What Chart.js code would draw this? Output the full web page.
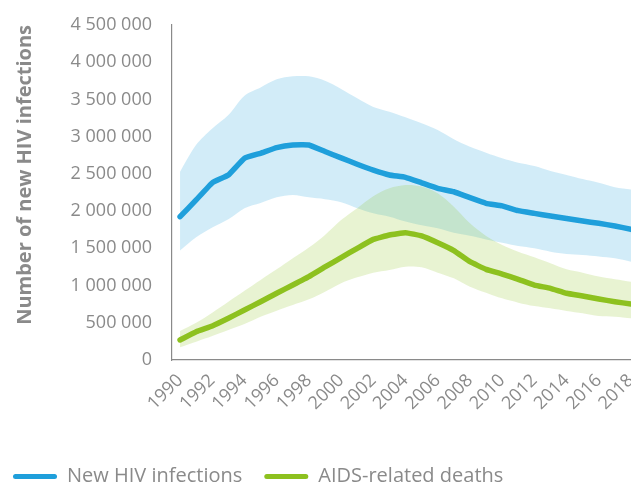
<!DOCTYPE html>
<html>
<head>
<meta charset="utf-8">
<script src="https://cdn.jsdelivr.net/npm/chart.js@4.4.1/dist/chart.umd.min.js"></script>
<style>
  html, body { margin: 0; padding: 0; background: #ffffff; }
  #wrap { width: 631px; height: 486px; }
</style>
</head>
<body>
<div id="wrap"><canvas id="c" width="631" height="486"></canvas></div>
<script>
// ---- data ----
const years = [1990,1991,1992,1993,1994,1995,1996,1997,1998,1999,2000,2001,2002,2003,2004,2005,2006,2007,2008,2009,2010,2011,2012,2013,2014,2015,2016,2017,2018];
const xTickYears = [1990,1992,1994,1996,1998,2000,2002,2004,2006,2008,2010,2012,2014,2016,2018];
const yTicks = [0,500000,1000000,1500000,2000000,2500000,3000000,3500000,4000000,4500000];

const seriesNames = ['New HIV infections', 'AIDS-related deaths'];

const newInfections = [1925000,2150000,2380000,2485000,2710000,2777000,2852000,2888000,2888000,2800000,2715000,2630000,2550000,2485000,2454000,2380000,2306000,2260000,2180000,2105000,2070000,2006000,1970000,1934000,1900000,1867000,1836000,1800000,1755000];
const newInfectionsUpper = [2530000,2890000,3110000,3290000,3550000,3660000,3770000,3810000,3810000,3750000,3640000,3515000,3400000,3335000,3260000,3180000,3090000,2965000,2865000,2785000,2710000,2650000,2606000,2540000,2485000,2430000,2380000,2320000,2290000];
const newInfectionsLower = [1470000,1650000,1780000,1890000,2040000,2110000,2185000,2216000,2185000,2160000,2120000,2040000,1970000,1925000,1860000,1810000,1770000,1710000,1670000,1620000,1575000,1530000,1500000,1455000,1424000,1410000,1390000,1366000,1320000];

const aidsDeaths = [269000,380000,457000,560000,672000,783000,896000,1007000,1120000,1250000,1375000,1500000,1620000,1680000,1710000,1666000,1575000,1470000,1320000,1218000,1155000,1084000,1007000,963000,896000,860000,819000,783000,752000];
const aidsDeathsUpper = [390000,500000,636000,783000,930000,1075000,1218000,1366000,1510000,1680000,1880000,2040000,2200000,2306000,2350000,2330000,2240000,2060000,1836000,1666000,1545000,1455000,1380000,1300000,1218000,1173000,1120000,1084000,1050000];
const aidsDeathsLower = [170000,246000,322000,403000,484000,582000,662000,739000,815000,917000,1030000,1110000,1173000,1210000,1253000,1245000,1173000,1097000,985000,904000,828000,770000,725000,694000,658000,627000,591000,582000,560000];

// ---- styling ----
const BLUE = '#1f9fdb';
const GREEN = '#8dc11f';
const BLUE_BAND = 'rgba(31,159,219,0.2)';
const GREEN_BAND = 'rgba(141,193,31,0.2)';
const GREY = '#8a8a8a';
const FONT = '"Open Sans", "Noto Sans", sans-serif';

const pts = arr => years.map((y, i) => ({x: y, y: arr[i]}));
const fmt = v => String(v).replace(/\B(?=(\d{3})+(?!\d))/g, ' ');
const noPad = s => { s.paddingLeft = 0; s.paddingRight = 0; s.paddingTop = 0; s.paddingBottom = 0; };

const lineDs = (label, data, color) => ({
  label, data: pts(data), borderColor: color, backgroundColor: color,
  borderWidth: 5.5, pointRadius: 0, fill: false, tension: 0.1,
  borderCapStyle: 'round', borderJoinStyle: 'round'
});
const bandDs = (label, data, color, fill) => ({
  label, data: pts(data), borderColor: 'rgba(0,0,0,0)', backgroundColor: color,
  borderWidth: 0, pointRadius: 0, fill, tension: 0.3
});

new Chart(document.getElementById('c'), {
  type: 'line',
  data: {
    datasets: [
      lineDs(seriesNames[0], newInfections, BLUE),
      lineDs(seriesNames[1], aidsDeaths, GREEN),
      bandDs('deaths upper', aidsDeathsUpper, GREEN_BAND, '+1'),
      bandDs('deaths lower', aidsDeathsLower, GREEN_BAND, false),
      bandDs('infections upper', newInfectionsUpper, BLUE_BAND, '+1'),
      bandDs('infections lower', newInfectionsLower, BLUE_BAND, false)
    ]
  },
  options: {
    responsive: false,
    animation: false,
    layout: { padding: { top: 25, right: 0, left: -9, bottom: -10.5 } },
    plugins: {
      tooltip: { enabled: false },
      filler: { propagate: false },
      legend: {
        position: 'bottom',
        align: 'start',
        labels: {
          color: GREY,
          font: { family: FONT, size: 20 },
          boxWidth: 44,
          boxHeight: 5,
          padding: 22,
          useBorderRadius: true,
          borderRadius: 2.5,
          filter: item => item.datasetIndex < 2,
          generateLabels: chart => Chart.defaults.plugins.legend.labels.generateLabels(chart).map(it => {
            it.lineWidth = 0;
            it.strokeStyle = 'rgba(0,0,0,0)';
            return it;
          })
        }
      }
    },
    scales: {
      x: {
        type: 'linear',
        min: 1989.5,
        max: 2018,
        afterBuildTicks: s => { s.ticks = xTickYears.map(v => ({value: v})); },
        afterFit: s => { s.height = 84.5; noPad(s); },
        grid: { display: false, drawTicks: false },
        border: { display: true, color: GREY, width: 1.2 },
        ticks: {
          color: GREY,
          font: { family: FONT, size: 18 },
          minRotation: 45, maxRotation: 45,
          padding: 10,
          autoSkip: false,
          callback: v => String(v)
        }
      },
      y: {
        min: 0,
        max: 4500000,
        afterBuildTicks: s => { s.ticks = yTicks.map(v => ({value: v})); },
        afterFit: s => { s.width = 181; noPad(s); },
        grid: { display: false, drawTicks: false },
        border: { display: true, color: GREY, width: 1.2 },
        ticks: {
          color: GREY,
          font: { family: FONT, size: 18 },
          padding: 20,
          callback: v => fmt(v)
        },
        title: {
          display: true,
          text: 'Number of new HIV infections',
          color: GREY,
          align: 'end',
          font: { family: FONT, size: 20, weight: 'bold' },
          padding: { top: 22, bottom: 0 }
        }
      }
    }
  }
});
</script>
</body>
</html>
